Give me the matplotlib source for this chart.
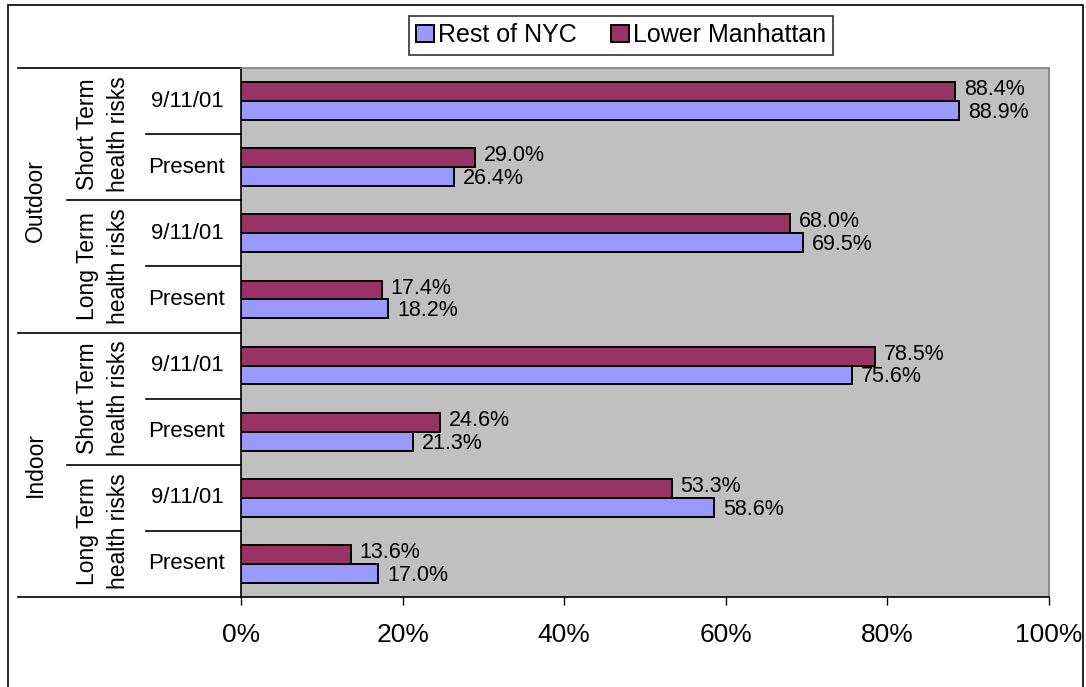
import matplotlib.pyplot as plt
import numpy as np
from matplotlib.patches import Rectangle
from matplotlib.lines import Line2D
from matplotlib.transforms import blended_transform_factory

plt.rcParams['font.family'] = ['Liberation Sans', 'DejaVu Sans']

# categories, top to bottom
periods = ['9/11/01', 'Present', '9/11/01', 'Present', '9/11/01', 'Present', '9/11/01', 'Present']
horizons = ['Short Term\nhealth risks', 'Long Term\nhealth risks', 'Short Term\nhealth risks', 'Long Term\nhealth risks']
locations = ['Outdoor', 'Indoor']

lower_manhattan = [88.4, 29.0, 68.0, 17.4, 78.5, 24.6, 53.3, 13.6]
rest_of_nyc = [88.9, 26.4, 69.5, 18.2, 75.6, 21.3, 58.6, 17.0]

x_ticks = [0, 20, 40, 60, 80, 100]

W, H = 1086, 687
fig = plt.figure(figsize=(W / 100, H / 100), dpi=100)
ax = fig.add_axes([241 / W, 1 - 597 / H, (1049 - 241) / W, (597 - 68) / H])
ax.set_facecolor('#C0C0C0')

y = np.arange(len(periods))
h = 0.285
ax.barh(y + h / 2, rest_of_nyc, height=h, color='#9999FF', edgecolor='black', linewidth=1.4, label='Rest of NYC')
ax.barh(y - h / 2, lower_manhattan, height=h, color='#993366', edgecolor='black', linewidth=1.4, label='Lower Manhattan')

for yi, v in zip(y, lower_manhattan):
    ax.text(v + 1.1, yi - h / 2 - 0.03, f'{v:.1f}%', va='center', ha='left', fontsize=15.5)
for yi, v in zip(y, rest_of_nyc):
    ax.text(v + 1.1, yi + h / 2 + 0.03, f'{v:.1f}%', va='center', ha='left', fontsize=15.5)

ax.set_xlim(0, 100)
ax.set_ylim(len(periods) - 0.5, -0.5)
ax.set_xticks(x_ticks)
ax.set_xticklabels([f'{t}%' for t in x_ticks], fontsize=19)
ax.tick_params(axis='x', direction='out', length=6, width=1, pad=13, colors='black')
ax.set_yticks([])

for side in ['left', 'bottom']:
    ax.spines[side].set_color('black')
    ax.spines[side].set_linewidth(1.2)
for side in ['top', 'right']:
    ax.spines[side].set_color('#808080')
    ax.spines[side].set_linewidth(1.2)

# multi-level category axis
tr = blended_transform_factory(fig.transFigure, ax.transData)
for yi, lab in zip(y, periods):
    ax.text(187 / W, yi, lab, transform=tr, ha='center', va='center', fontsize=16)
for k, lab in enumerate(horizons):
    ax.text(103 / W, 2 * k + 0.5, lab, transform=tr, ha='center', va='center',
            rotation=90, fontsize=16.5, linespacing=1.4, multialignment='center')
for k, lab in enumerate(locations):
    ax.text(35 / W, 4 * k + 1.5, lab, transform=tr, ha='center', va='center',
            rotation=90, fontsize=16.5)

for b in [0.5, 2.5, 4.5, 6.5]:
    ax.add_line(Line2D([146 / W, 241 / W], [b, b], transform=tr, color='black', lw=1.2, clip_on=False))
for b in [1.5, 5.5]:
    ax.add_line(Line2D([67 / W, 241 / W], [b, b], transform=tr, color='black', lw=1.2, clip_on=False))
for b in [-0.5, 3.5, 7.5]:
    ax.add_line(Line2D([18 / W, 241 / W], [b, b], transform=tr, color='black', lw=1.2, clip_on=False))

handles, labels = ax.get_legend_handles_labels()
leg = fig.legend(handles, labels, loc='center', bbox_to_anchor=(621 / W, 1 - 35 / H), ncol=2,
                 fontsize=18, frameon=True, fancybox=False, edgecolor='black',
                 handlelength=0.7, handleheight=0.7, handletextpad=0.15, columnspacing=1.4,
                 borderpad=0.3, borderaxespad=0)
leg.get_frame().set_linewidth(1.2)

fig.patches.append(Rectangle((7.5 / W, -0.05), (1083 - 7.5) / W, 1.05 - 5.5 / H, transform=fig.transFigure,
                             fill=False, edgecolor='black', lw=1.2))

fig.savefig('out.png', dpi=100)
